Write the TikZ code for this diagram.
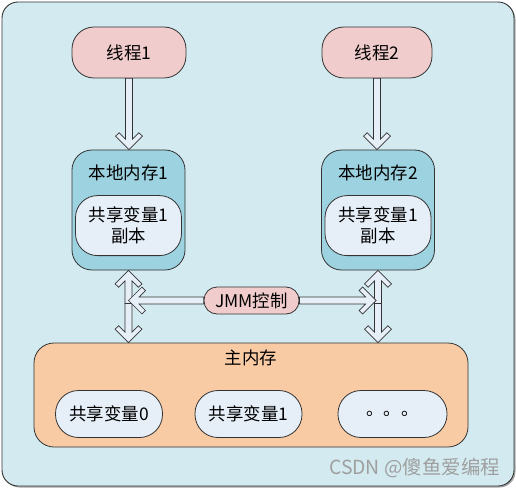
\documentclass[tikz,border=0pt]{standalone}
\usepackage{fontspec}
\setmainfont{Noto Sans CJK SC}
\usetikzlibrary{calc, positioning}
\definecolor{panelcyan}{HTML}{D3EBF0}
\definecolor{localblue}{HTML}{9DD2E0}
\definecolor{threadpink}{HTML}{F0CDCC}
\definecolor{mainpeach}{HTML}{F9CBA5}
\definecolor{varwhite}{HTML}{E6EEF8}
\definecolor{edgegray}{HTML}{333333}
\tikzset{
    box/.style={
        draw=edgegray,
        line width=0.8bp,
        align=center,
        inner sep=2bp,
        font=\fontsize{17.5}{21}\selectfont
    },
    threadbox/.style={box, fill=threadpink, rounded corners=22bp, minimum width=114bp, minimum height=51bp},
    localbox/.style={box, fill=localblue, rounded corners=20bp, minimum width=113bp, minimum height=120bp},
    copybox/.style={box, fill=varwhite, rounded corners=22bp, minimum width=106bp, minimum height=60bp},
    mainbox/.style={box, fill=mainpeach, rounded corners=20bp, minimum width=434bp, minimum height=104bp},
    varbox/.style={box, fill=varwhite, rounded corners=23bp, minimum width=107bp, minimum height=47bp},
    jmmbox/.style={box, fill=threadpink, rounded corners=13bp, minimum width=95bp, minimum height=27bp},
    boxtitle/.style={font=\fontsize{17.5}{21}\selectfont, inner sep=0pt},
    hollow/.style={draw=edgegray, line width=0.7bp, fill=varwhite, line join=miter},
    panel/.style={draw=edgegray, line width=0.9bp, fill=panelcyan, rounded corners=16bp},
    watermark/.style={font=\fontsize{19.5}{22}\selectfont, text=gray!75, inner sep=0pt}
}
% hollow block arrow, tip at #2
\newcommand{\hollowarrow}[2]{%
    \coordinate (ha-h) at ($(#2)!10.5bp!(#1)$);
    \coordinate (ha-e) at ($(#2)!7bp!(#1)$);
    \draw[hollow] ($(#1)!3.5bp!90:(#2)$) -- ($(ha-h)!3.5bp!90:(#2)$)
        -- ($(ha-e)!14bp!-45:(#1)$) -- ($(#2)!19bp!-45:(#1)$) -- (#2)
        -- ($(#2)!19bp!45:(#1)$) -- ($(ha-e)!14bp!45:(#1)$)
        -- ($(ha-h)!3.5bp!-90:(#2)$) -- ($(#1)!3.5bp!-90:(#2)$) -- cycle;
}

\begin{document}
\begin{tikzpicture}[x=1bp, y=-1bp]
    \useasboundingbox (0,0) rectangle (516,488);
    \fill[gray!70, rounded corners=16bp] (3.5,3.5) rectangle (515.5,487.5);
    \draw[panel] (2,2) rectangle (514,486);

    \node[threadbox] (thread1) at (129,52.5) {线程1};
    \node[threadbox, minimum width=110bp] (thread2) at (377,52.5) {线程2};

    \node[localbox] (mem1) at (128.5,210) {};
    \node[localbox] (mem2) at (378,210) {};
    \node[boxtitle] (title1) at ($(mem1.north)+(0,23)$) {本地内存1};
    \node[boxtitle] (title2) at ($(mem2.north)+(0,23)$) {本地内存2};
    \node[copybox] (copy1) at ($(mem1.north)+(0,76)$) {共享变量1\\副本};
    \node[copybox] (copy2) at ($(mem2.north)+(0,76)$) {共享变量1\\副本};

    \node[mainbox] (main) at (251,395) {};
    \node[boxtitle] (maintitle) at ($(main.north)+(0,15)$) {主内存};
    \node[varbox] (var0) at (109,414) {共享变量0};
    \node[varbox] (var1) at (248.5,414) {共享变量1};
    \node[varbox, minimum width=109bp] (varmore) at (392.5,414) {。。。};

    \hollowarrow{thread1.south}{thread1.south |- mem1.north}
    \hollowarrow{thread2.south}{thread2.south |- mem2.north}

    \coordinate (v1top) at (mem1.south);
    \coordinate (v1bot) at (mem1.south |- main.north);
    \coordinate (v1mid) at ($(v1top)+(0,33)$);
    \coordinate (v2top) at (mem2.south);
    \coordinate (v2bot) at (mem2.south |- main.north);
    \coordinate (v2mid) at ($(v2top)+(0,33)$);
    \hollowarrow{v1mid}{v1top}
    \hollowarrow{v1mid}{v1bot}
    \hollowarrow{v2mid}{v2top}
    \hollowarrow{v2mid}{v2bot}

    \node[jmmbox] (jmm) at (251.5,300.5) {JMM控制};
    \coordinate (h1tip) at (v1top |- jmm.west);
    \coordinate (h2tip) at ($(v2top |- jmm.east)+(-2,0)$);
    \hollowarrow{jmm.west}{h1tip}
    \hollowarrow{jmm.east}{h2tip}

    \node[watermark] (mark) at (414.5,468) {CSDN @傻鱼爱编程};
\end{tikzpicture}
\end{document}
